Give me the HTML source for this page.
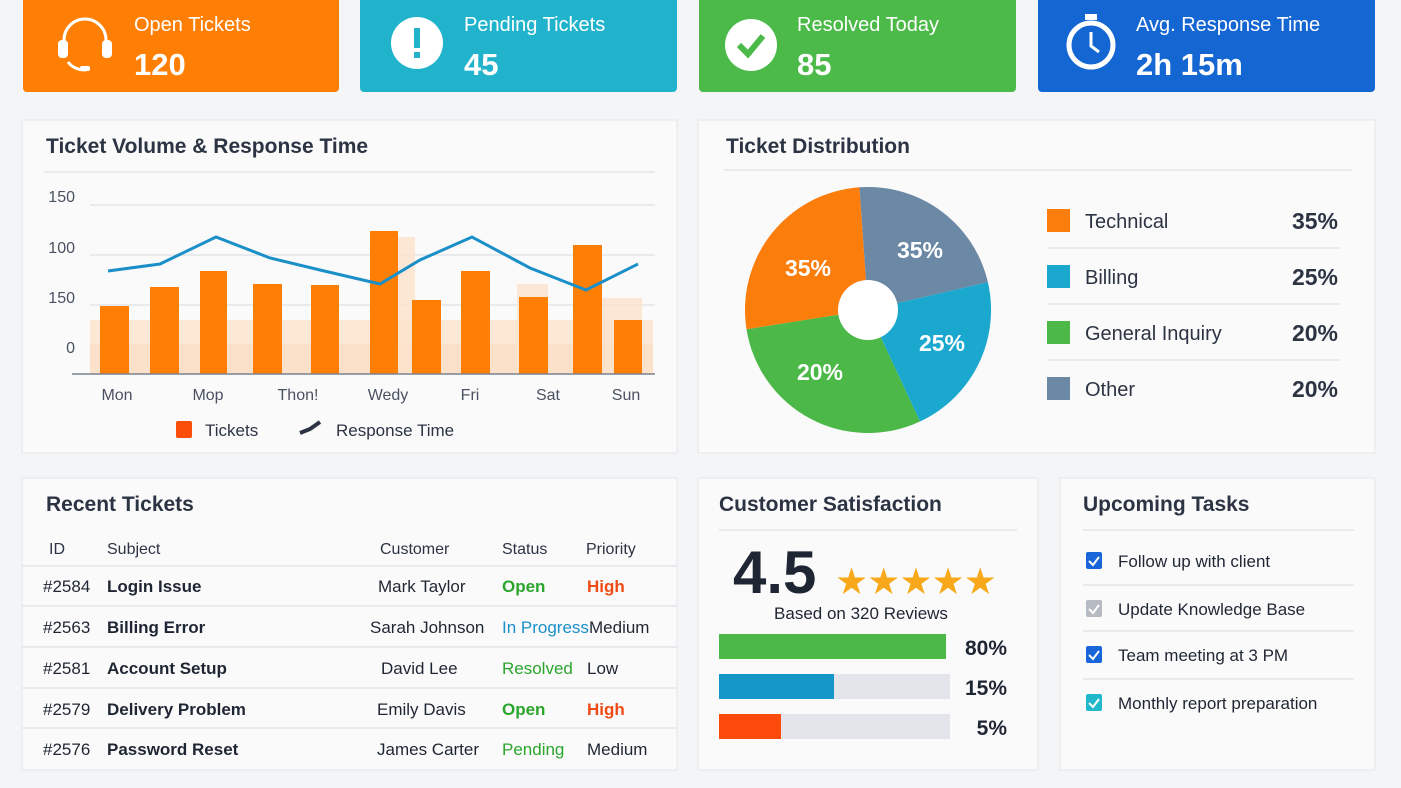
<!DOCTYPE html>
<html><head><meta charset="utf-8"><style>
body{margin:0;background:#f3f4f6;}
svg{display:block;font-family:"Liberation Sans","DejaVu Sans",sans-serif;}
</style></head><body>
<svg width="1401" height="788" viewBox="0 0 1401 788" xmlns="http://www.w3.org/2000/svg">
<rect width="1401" height="788" fill="#f4f5f7"/>
<!-- top cards -->
<rect x="23" y="-6" width="316" height="98" rx="4" fill="#ff7f05"/>
<rect x="360" y="-6" width="317" height="98" rx="4" fill="#22b3cc"/>
<rect x="699" y="-6" width="317" height="98" rx="4" fill="#4bba48"/>
<rect x="1038" y="-6" width="337" height="98" rx="4" fill="#1466d2"/>
<g fill="#fff">
<text x="134" y="31" font-size="20">Open Tickets</text>
<text x="134" y="75" font-size="31" font-weight="bold">120</text>
<text x="464" y="31" font-size="20">Pending Tickets</text>
<text x="464" y="75" font-size="31" font-weight="bold">45</text>
<text x="797" y="31" font-size="20">Resolved Today</text>
<text x="797" y="75" font-size="31" font-weight="bold">85</text>
<text x="1136" y="31" font-size="20">Avg. Response Time</text>
<text x="1136" y="75" font-size="31" font-weight="bold">2h 15m</text>
</g>
<!-- icons -->
<g stroke="#fff" stroke-width="3" fill="none">
<path d="M64 50 V40 a21 21 0 0 1 42 0 V50"/><path d="M68 62 q6 8 18 8"/>
</g>
<rect x="58" y="40" width="10" height="18" rx="4" fill="#fff"/><rect x="102" y="40" width="10" height="18" rx="4" fill="#fff"/><rect x="80" y="66" width="10" height="5" rx="2" fill="#fff"/>
<circle cx="417" cy="43" r="26" fill="#fff"/><rect x="414" y="28" width="6" height="20" fill="#22b3cc"/><rect x="414" y="52" width="6" height="6" fill="#22b3cc"/>
<circle cx="751" cy="45" r="26" fill="#fff"/><path d="M739 45 l9 9 l15 -18" stroke="#4bba48" stroke-width="6" fill="none"/>
<circle cx="1091" cy="45" r="22" fill="none" stroke="#fff" stroke-width="5"/><rect x="1085" y="14" width="12" height="6" fill="#fff"/><path d="M1091 32 V46 l8 6" stroke="#fff" stroke-width="3" fill="none"/>

<!-- panels -->
<g fill="#fafafb" stroke="#e6e7ea">
<rect x="22" y="120" width="655" height="333"/>
<rect x="698" y="120" width="677" height="333"/>
<rect x="22" y="478" width="655" height="292"/>
<rect x="698" y="478" width="340" height="292"/>
<rect x="1060" y="478" width="315" height="292"/>
</g>
<g fill="#2c3444" font-size="21" font-weight="bold">
<text x="46" y="153">Ticket Volume &amp; Response Time</text>
<text x="726" y="153">Ticket Distribution</text>
<text x="46" y="511">Recent Tickets</text>
<text x="719" y="511">Customer Satisfaction</text>
<text x="1083" y="511">Upcoming Tasks</text>
</g>
<g stroke="#e3e5ea" stroke-width="1.5">
<line x1="44" y1="172" x2="655" y2="172"/>
<line x1="724" y1="170" x2="1352" y2="170"/>
<line x1="719" y1="530" x2="1017" y2="530"/>
<line x1="1083" y1="530" x2="1354" y2="530"/>
<line x1="90" y1="205" x2="655" y2="205"/>
<line x1="90" y1="255" x2="655" y2="255"/>
<line x1="90" y1="305" x2="655" y2="305"/>
</g>
<!-- chart -->
<rect x="90" y="320" width="563" height="54" fill="#fde8d6"/>
<rect x="90" y="344" width="563" height="30" fill="#fcdcc2" opacity="0.6"/>
<g fill="#fde2cc" opacity="0.8">
<rect x="398" y="237" width="17" height="137"/><rect x="517" y="284" width="31" height="90"/><rect x="602" y="298" width="40" height="76"/>
</g>
<g fill="#ff7f05">
<rect x="100" y="306" width="29" height="68"/><rect x="150" y="287" width="29" height="87"/>
<rect x="200" y="271" width="27" height="103"/><rect x="253" y="284" width="29" height="90"/>
<rect x="311" y="285" width="28" height="89"/><rect x="370" y="231" width="28" height="143"/>
<rect x="412" y="300" width="29" height="74"/><rect x="461" y="271" width="29" height="103"/>
<rect x="519" y="297" width="29" height="77"/><rect x="573" y="245" width="29" height="129"/>
<rect x="614" y="320" width="28" height="54"/>
</g>
<line x1="72" y1="374" x2="655" y2="374" stroke="#7a8290" stroke-width="1.5"/>
<polyline points="108,271 160,264 216,237 270,258 320,270 380,284 420,260 472,237 530,268 586,290 638,264" fill="none" stroke="#1a8fc8" stroke-width="3"/>
<g fill="#4a5262" font-size="16">
<text x="75" y="202" text-anchor="end">150</text>
<text x="75" y="253" text-anchor="end">100</text>
<text x="75" y="303" text-anchor="end">150</text>
<text x="75" y="353" text-anchor="end">0</text>
<g text-anchor="middle">
<text x="117" y="400">Mon</text><text x="208" y="400">Mop</text><text x="298" y="400">Thon!</text>
<text x="388" y="400">Wedy</text><text x="470" y="400">Fri</text><text x="548" y="400">Sat</text><text x="626" y="400">Sun</text>
</g>
</g>
<rect x="176" y="421" width="16" height="17" rx="2" fill="#fb4e0a"/>
<text x="205" y="436" font-size="17" fill="#2c3444">Tickets</text>
<path d="M300 433 l10 -4 l10 -7" stroke="#2c3444" stroke-width="4" fill="none"/>
<text x="336" y="436" font-size="17" fill="#2c3444">Response Time</text>

<!-- pie -->
<path d="M868 310 L859.4 187.3 A123 123 0 0 1 987.9 282.3 Z" fill="#6b88a4"/>
<path d="M868 310 L987.9 282.3 A123 123 0 0 1 920 421.5 Z" fill="#1ba8cf"/>
<path d="M868 310 L920 421.5 A123 123 0 0 1 746.5 329.2 Z" fill="#4cb848"/>
<path d="M868 310 L746.5 329.2 A123 123 0 0 1 859.4 187.3 Z" fill="#fb7d0c"/>
<circle cx="868" cy="310" r="30" fill="#fff"/>
<g fill="#fff" font-size="23" font-weight="bold" text-anchor="middle">
<text x="808" y="276">35%</text><text x="920" y="258">35%</text><text x="942" y="351">25%</text><text x="820" y="380">20%</text>
</g>
<rect x="1047" y="209" width="23" height="23" fill="#fb7d0c"/>
<rect x="1047" y="265" width="23" height="23" fill="#1ba8cf"/>
<rect x="1047" y="321" width="23" height="23" fill="#4cb848"/>
<rect x="1047" y="377" width="23" height="23" fill="#6b88a4"/>
<g stroke="#e3e5ea" stroke-width="1.5"><line x1="1047" y1="248" x2="1340" y2="248"/><line x1="1047" y1="304" x2="1340" y2="304"/><line x1="1047" y1="360" x2="1340" y2="360"/></g>
<g fill="#2c3444" font-size="20">
<text x="1085" y="228">Technical</text><text x="1085" y="284">Billing</text><text x="1085" y="340">General Inquiry</text><text x="1085" y="396">Other</text>
</g>
<g fill="#2c3444" font-size="23" font-weight="bold" text-anchor="end">
<text x="1338" y="229">35%</text><text x="1338" y="285">25%</text><text x="1338" y="341">20%</text><text x="1338" y="397">20%</text>
</g>

<!-- table -->
<g fill="#2c3444" font-size="16">
<text x="49" y="554">ID</text><text x="107" y="554">Subject</text><text x="380" y="554">Customer</text><text x="502" y="554">Status</text><text x="586" y="554">Priority</text>
</g>
<g stroke="#e3e5ea" stroke-width="1.5">
<line x1="22" y1="566" x2="677" y2="566"/><line x1="22" y1="606" x2="677" y2="606"/><line x1="22" y1="647" x2="677" y2="647"/><line x1="22" y1="688" x2="677" y2="688"/><line x1="22" y1="728" x2="677" y2="728"/>
</g>
<g font-size="17" fill="#1f2633">
<text x="43" y="592">#2584</text><text x="107" y="592" font-weight="bold">Login Issue</text><text x="378" y="592">Mark Taylor</text>
<text x="43" y="633">#2563</text><text x="107" y="633" font-weight="bold">Billing Error</text><text x="370" y="633">Sarah Johnson</text>
<text x="43" y="674">#2581</text><text x="107" y="674" font-weight="bold">Account Setup</text><text x="381" y="674">David Lee</text>
<text x="43" y="715">#2579</text><text x="107" y="715" font-weight="bold">Delivery Problem</text><text x="377" y="715">Emily Davis</text>
<text x="43" y="755">#2576</text><text x="107" y="755" font-weight="bold">Password Reset</text><text x="377" y="755">James Carter</text>
<text x="502" y="592" fill="#2ca52c" font-weight="bold">Open</text><text x="587" y="592" fill="#f04a14" font-weight="bold">High</text>
<text x="502" y="633" fill="#1a8fc8">In Progress</text><text x="589" y="633">Medium</text>
<text x="502" y="674" fill="#2ca52c">Resolved</text><text x="587" y="674">Low</text>
<text x="502" y="715" fill="#2ca52c" font-weight="bold">Open</text><text x="587" y="715" fill="#f04a14" font-weight="bold">High</text>
<text x="502" y="755" fill="#2ca52c">Pending</text><text x="587" y="755">Medium</text>
</g>

<!-- satisfaction -->
<text x="733" y="593" font-size="60" font-weight="bold" fill="#1f2633">4.5</text>
<text x="835" y="594" font-size="37" fill="#f7a81b" letter-spacing="-1">★★★★★</text>
<text x="861" y="619" font-size="17" fill="#1f2633" text-anchor="middle">Based on 320 Reviews</text>
<rect x="719" y="634" width="227" height="25" fill="#4cb848"/>
<rect x="719" y="674" width="231" height="25" fill="#e4e5ea"/><rect x="719" y="674" width="115" height="25" fill="#1497c8"/>
<rect x="719" y="714" width="231" height="25" fill="#e4e5ea"/><rect x="719" y="714" width="62" height="25" fill="#fb4a0a"/>
<g font-size="21" font-weight="bold" fill="#1f2633" text-anchor="end">
<text x="1007" y="655">80%</text><text x="1007" y="695">15%</text><text x="1007" y="735">5%</text>
</g>

<!-- tasks -->
<g stroke="#e3e5ea" stroke-width="1.5"><line x1="1083" y1="585" x2="1354" y2="585"/><line x1="1083" y1="631" x2="1354" y2="631"/><line x1="1083" y1="679" x2="1354" y2="679"/></g>
<rect x="1086" y="552" width="16" height="17" rx="2" fill="#1765d8"/>
<rect x="1086" y="600" width="16" height="17" rx="2" fill="#b5bac3"/>
<rect x="1086" y="646" width="16" height="17" rx="2" fill="#1765d8"/>
<rect x="1086" y="694" width="16" height="17" rx="2" fill="#22b8cc"/>
<g stroke="#fff" stroke-width="2" fill="none">
<path d="M1089 561 l4 4 l6 -8"/><path d="M1089 609 l4 4 l6 -8"/><path d="M1089 655 l4 4 l6 -8"/><path d="M1089 703 l4 4 l6 -8"/>
</g>
<g font-size="17" fill="#1f2633">
<text x="1118" y="567">Follow up with client</text>
<text x="1118" y="615">Update Knowledge Base</text>
<text x="1118" y="661">Team meeting at 3 PM</text>
<text x="1118" y="709">Monthly report preparation</text>
</g>
</svg>
</body></html>
